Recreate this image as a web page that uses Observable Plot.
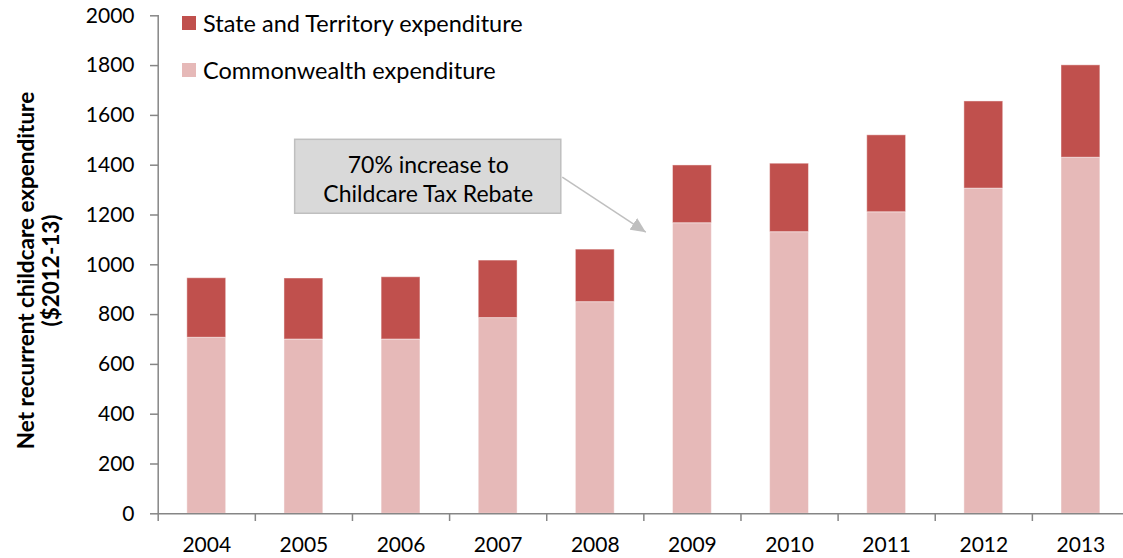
<!DOCTYPE html>
<html>
<head>
<meta charset="utf-8">
<script src="https://cdn.jsdelivr.net/npm/d3@7"></script>
<script src="https://cdn.jsdelivr.net/npm/@observablehq/plot@0.6"></script>
<style>
  html, body { margin: 0; padding: 0; background: #fff; }
  #wrap { position: relative; width: 1123px; height: 558px; font-family: Lato, "Open Sans", sans-serif; }
  #wrap svg { position: absolute; left: 0; top: 0; overflow: visible; }
  .leg { position: absolute; left: 182px; display: flex; align-items: center; font-size: 23.5px; color: #000; white-space: nowrap; }
  .leg .sw { width: 14px; height: 14px; margin-right: 7px; }
</style>
</head>
<body>
<div id="wrap"></div>
<script>
// ---- data ----
const years = [2004, 2005, 2006, 2007, 2008, 2009, 2010, 2011, 2012, 2013];
const commonwealth = [707, 700, 700, 786, 850, 1167, 1131, 1211, 1306, 1430];
const stateTerritory = [239, 245, 250, 231, 211, 232, 275, 309, 350, 371];
const seriesNames = ["State and Territory expenditure", "Commonwealth expenditure"];
const seriesColors = ["#C0504D", "#E6B9B8"];
const yTicks = [0, 200, 400, 600, 800, 1000, 1200, 1400, 1600, 1800, 2000];
const yTitle = "Net recurrent childcare expenditure\n($2012-13)";
const calloutText = "70% increase to\nChildcare Tax Rebate";
const calloutBox = [{x1: 2004.91, x2: 2007.65, y1: 1205, y2: 1502}];
const calloutArrow = [{x1: 2007.66, y1: 1352, x2: 2008.52, y2: 1131}];

// ---- build rows ----
const rows = [];
years.forEach((yr, i) => {
  rows.push({year: yr, series: seriesNames[1], y1: 0, y2: commonwealth[i]});
  rows.push({year: yr, series: seriesNames[0], y1: commonwealth[i], y2: commonwealth[i] + stateTerritory[i]});
});
const boundaries = years.map(y => y - 0.5);
const halfBar = 0.2;

function filledArrow(color, context) {
  const doc = context.document;
  const ns = "http://www.w3.org/2000/svg";
  const m = doc.createElementNS(ns, "marker");
  m.setAttribute("viewBox", "-15 -7 16 14");
  m.setAttribute("markerWidth", "16");
  m.setAttribute("markerHeight", "14");
  m.setAttribute("markerUnits", "userSpaceOnUse");
  m.setAttribute("refX", "0");
  m.setAttribute("refY", "0");
  m.setAttribute("orient", "auto");
  const p = doc.createElementNS(ns, "path");
  p.setAttribute("d", "M-15,-7L0,0L-15,7Z");
  p.setAttribute("fill", color);
  p.setAttribute("stroke", "none");
  m.appendChild(p);
  return m;
}

const axisColor = "#868686";

const chart = Plot.plot({
  width: 1123,
  height: 558,
  marginTop: 15,
  marginBottom: 45,
  marginLeft: 158,
  marginRight: 0,
  style: {fontFamily: "Lato, 'Open Sans', sans-serif", background: "transparent", overflow: "visible"},
  x: {type: "linear", domain: [2003.5, 2013.5], range: [157.7, 1129]},
  y: {domain: [0, 2000], range: [513.3, 15.3]},
  marks: [
    Plot.rect(rows, {
      x1: d => d.year - halfBar, x2: d => d.year + halfBar,
      y1: "y1", y2: "y2",
      fill: d => seriesColors[seriesNames.indexOf(d.series)],
      stroke: "#ffffff", strokeOpacity: 0.45, strokeWidth: 1
    }),
    Plot.ruleX([2003.5], {stroke: axisColor, strokeWidth: 1.5}),
    Plot.ruleY([0], {stroke: axisColor, strokeWidth: 1.5}),
    Plot.axisY({ticks: yTicks, tickSize: 8, tickPadding: 16, fontSize: 21, stroke: axisColor, strokeWidth: 1.5, fill: "#000", label: null, tickFormat: d => String(d)}),
    Plot.axisX({ticks: boundaries, tickSize: 8, stroke: axisColor, strokeWidth: 1.5, tickFormat: () => "", label: null}),
    Plot.axisX({ticks: years, tickSize: 0, tickPadding: 24, fontSize: 21, fill: "#000", tickFormat: d => String(d), label: null}),
    Plot.text([yTitle], {frameAnchor: "left", dx: -120, dy: 6, rotate: -90, fontSize: 22.5, fontWeight: "bold", lineHeight: 1.12, fill: "#000", textAnchor: "middle"}),
    Plot.rect(calloutBox, {x1: "x1", x2: "x2", y1: "y1", y2: "y2", fill: "#D9D9D9", stroke: "#BFBFBF", strokeWidth: 1.5}),
    Plot.text(calloutBox, {x: d => (d.x1 + d.x2) / 2, y: d => (d.y1 + d.y2) / 2, text: () => calloutText, fontSize: 23, lineHeight: 1.26, fill: "#000", dy: 1}),
    Plot.link(calloutArrow, {x1: "x1", y1: "y1", x2: "x2", y2: "y2", stroke: "#BFBFBF", strokeWidth: 1.5, markerEnd: filledArrow})
  ]
});

const wrap = document.getElementById("wrap");
wrap.appendChild(chart);

// legend (HTML)
const legTops = [23, 70];
seriesNames.forEach((name, i) => {
  const item = document.createElement("div");
  item.className = "leg";
  item.style.top = (legTops[i] - 14) + "px";
  item.style.height = "28px";
  const sw = document.createElement("span");
  sw.className = "sw";
  sw.style.background = seriesColors[i];
  const t = document.createElement("span");
  t.textContent = name;
  item.appendChild(sw);
  item.appendChild(t);
  wrap.appendChild(item);
});
</script>
</body>
</html>
